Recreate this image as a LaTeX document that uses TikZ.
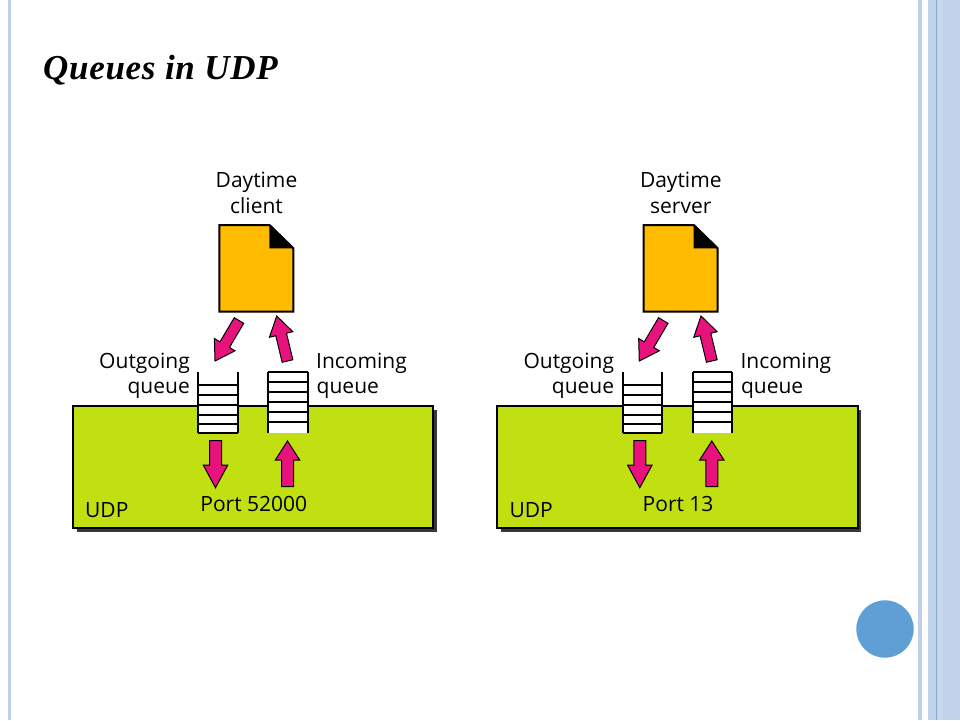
\documentclass[tikz,border=0pt]{standalone}
\usepackage{fontspec}
\setmainfont{Open Sans}
\newfontfamily\titlefont[LetterSpace=2]{Liberation Serif}
\usetikzlibrary{calc}
\definecolor{udpgreen}{HTML}{C1E012}
\definecolor{docorange}{HTML}{FFBB00}
\definecolor{arrowpink}{HTML}{E8127C}
\definecolor{stripeblue}{HTML}{BDD0E8}
\definecolor{bandblue}{HTML}{C0D2EA}
\definecolor{bandlight}{HTML}{C8D8ED}
\definecolor{banddark}{HTML}{8CA7CC}
\definecolor{dotblue}{HTML}{5F9FD5}
\definecolor{shadowgray}{HTML}{383838}
\tikzset{
  arrowfill/.style={fill=arrowpink, draw=black, line width=1pt, line join=miter},
  udpbox/.style={fill=udpgreen, draw=black, line width=2pt},
  boxshadow/.style={fill=shadowgray},
  docbody/.style={fill=docorange, draw=black, line width=2pt, line join=miter},
  docfold/.style={fill=black},
  queueline/.style={draw=black, line width=2pt},
  queuefill/.style={fill=white},
  lbl/.style={inner sep=0pt, font=\fontsize{21}{25}\selectfont},
}
% block arrow: tail, tip, shaft half width, head half width, head length
\newcommand{\blockarr}[5]{%
  \coordinate (hb) at ($(#2)!#5!(#1)$);
  \path[arrowfill] ($(#1)!#3!90:(#2)$) -- ($(hb)!#3!-90:(#1)$) -- ($(hb)!#4!-90:(#1)$)
     -- (#2) -- ($(hb)!#4!90:(#1)$) -- ($(hb)!#3!90:(#1)$) -- ($(#1)!#3!-90:(#2)$) -- cycle;}
% one UDP diagram: prefix, second title line, port text
\newcommand{\udpdiagram}[3]{%
  % UDP box with shadow
  \path[boxshadow] (76.7,409.7) rectangle (436.7,531.7);
  \path[udpbox] (72.7,405.7) rectangle (433.3,528);
  % document
  \path[docbody] (219.3,225) coordinate (#1doc) -- (269.3,225) -- (293.3,248.3) -- (293.3,311.7) -- (219.3,311.7) -- cycle;
  \path[docfold] (269.3,225) -- (269.3,248.3) -- (293.3,248.3) -- cycle;
  \draw[line width=2pt, line join=miter] (269.3,225) -- (293.3,248.3);
  % outgoing queue (open top)
  \path[queuefill] (198.3,372.3) rectangle (237.7,433.3);
  \draw[queueline] (198.3,372.3) -- (198.3,433.3) (237.7,372.3) -- (237.7,433.3);
  \foreach \yy in {385,395,405,414.5,424,433.3} \draw[queueline] (198.3,\yy) -- (237.7,\yy);
  % incoming queue (open bottom)
  \path[queuefill] (268.3,372.3) rectangle (307.7,433.3);
  \draw[queueline] (268.3,372.3) -- (268.3,433.3) (307.7,372.3) -- (307.7,433.3);
  \foreach \yy in {372.3,381.7,392,402,412,421.5} \draw[queueline] (268.3,\yy) -- (307.7,\yy);
  % arrows
  \coordinate (#1aT) at (239,320.5); \coordinate (#1aH) at (215,361);
  \coordinate (#1bT) at (287.5,361); \coordinate (#1bH) at (276.7,316);
  \coordinate (#1cT) at (215.5,440.7); \coordinate (#1cH) at (215.5,487.7);
  \coordinate (#1dT) at (287.5,486.7); \coordinate (#1dH) at (287.5,441);
  \blockarr{#1aT}{#1aH}{5.5pt}{12pt}{19pt}
  \blockarr{#1bT}{#1bH}{5.5pt}{12pt}{19pt}
  \blockarr{#1cT}{#1cH}{6pt}{12.2pt}{22.5pt}
  \blockarr{#1dT}{#1dH}{6pt}{12.2pt}{19pt}
  % labels
  \node[lbl, anchor=base] (#1day) at (256.5,187.3) {Daytime};
  \node[lbl, anchor=base] (#1kind) at (256.5,213.3) {#2};
  \node[lbl, anchor=base east] (#1out1) at (190,368.3) {Outgoing};
  \node[lbl, anchor=base east] (#1out2) at (190,393.3) {queue};
  \node[lbl, anchor=base west] (#1in1) at (316,368.3) {Incoming};
  \node[lbl, anchor=base west] (#1in2) at (316.5,393.3) {queue};
  \node[lbl, anchor=base west] (#1udp) at (85,517.3) {UDP};
  \node[lbl, anchor=base] (#1port) at (253.8,511.7) {#3};
}
\begin{document}
\begin{tikzpicture}[x=1pt,y=-1pt]
  \useasboundingbox (0,0) rectangle (960,720);
  \fill[white] (0,0) rectangle (960,720);
  % slide decorations
  \fill[stripeblue] (8,0) rectangle (11,720);
  \fill[stripeblue] (918,0) rectangle (921.7,720);
  \fill[bandblue] (928,0) rectangle (960,720);
  \fill[bandlight] (936.7,0) rectangle (943.3,720);
  \draw[banddark, line width=1pt] (936.3,0) -- (936.3,720);
  \fill[dotblue] (885,629) circle (28.7);
  % title
  \node[inner sep=0pt, anchor=base west, font=\titlefont\bfseries\itshape\fontsize{35}{40}\selectfont] (title) at (43,79.5) {Queues in UDP};
  % diagrams
  \begin{scope}
    \udpdiagram{L}{client}{Port 52000}
  \end{scope}
  \begin{scope}[xshift=424.3pt]
    \udpdiagram{R}{server}{Port 13}
  \end{scope}
\end{tikzpicture}
\end{document}
